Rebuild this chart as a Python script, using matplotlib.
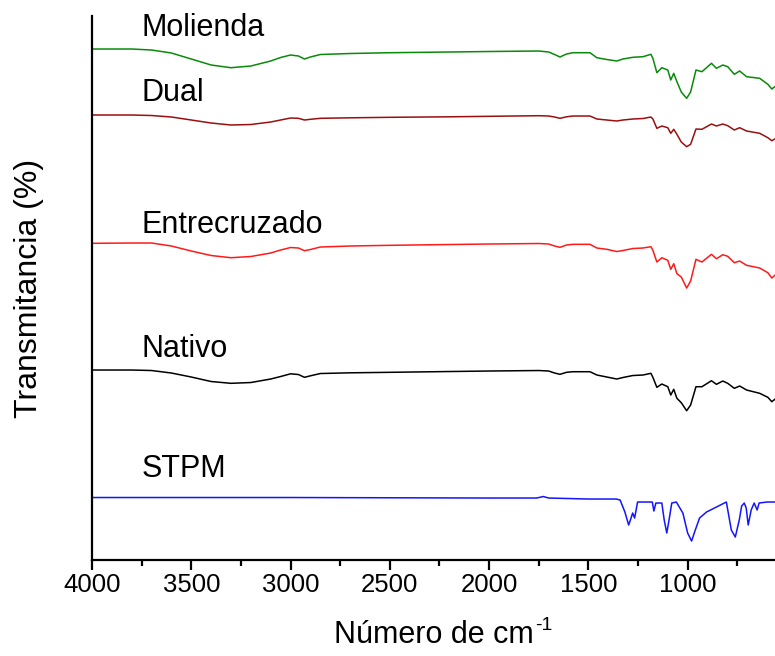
import matplotlib
matplotlib.use("Agg")
import matplotlib.pyplot as plt
from matplotlib.ticker import MultipleLocator

plt.rcParams['font.family'] = ['Liberation Sans', 'DejaVu Sans']

# Shared wavenumber grid for the starch samples (cm-1)
wn_starch = [4000, 3800, 3700, 3600, 3500, 3400, 3300, 3200, 3100, 3050,
             3000, 2960, 2930, 2900, 2850, 2700, 2500, 2200, 2000, 1750,
             1700, 1670, 1643, 1610, 1578, 1492, 1457, 1407, 1357, 1326,
             1276, 1225, 1185, 1175, 1155, 1130, 1100, 1085, 1070, 1054,
             1032, 1005, 985, 958, 928, 880, 855, 823, 798, 765,
             738, 703, 637, 596, 576, 561]

# Stacked transmittance (arbitrary units, already offset)
t_molienda = [511, 511, 510, 507, 501, 495, 492.3, 494, 499, 502.5,
              505, 504, 501, 503, 505.5, 506.5, 507.3, 508, 508.5, 509,
              508, 505.5, 503, 506, 507.3, 507.3, 502.3, 500.5, 499, 501,
              502.7, 503.3, 505.7, 501.7, 487.3, 492.3, 490, 480, 486.7, 478.3,
              468, 461.7, 468, 490, 488.3, 496.7, 491.7, 495, 493.3, 485.7,
              489, 483.3, 481.7, 475.7, 471, 473.3]

t_dual = [445, 445, 444.5, 443, 440, 437, 435, 435.5, 438, 440,
          442, 441.7, 440, 440.7, 441.7, 442.2, 442.7, 443.2, 443.7, 444.3,
          444, 443, 441.7, 443.2, 444, 444, 441, 440, 439, 440,
          441, 441.5, 443, 441, 431.7, 434, 432.3, 426.7, 430.7, 425.7,
          418, 413.3, 415.7, 431, 430.7, 436, 434, 436, 434.3, 430,
          432.3, 429, 426.7, 422.3, 419.3, 421]

t_entrecruzado = [316.7, 317, 317, 314, 309, 304.5, 302.3, 303.5, 307, 310,
                  312.5, 312, 309.3, 310.5, 313, 314, 314.7, 315.5, 316, 316.5,
                  316, 314, 312.7, 315, 315.7, 315.7, 312, 310.7, 308.5, 309.5,
                  311.5, 312, 313.3, 309.7, 298, 302.3, 299.7, 290.7, 296.3, 286.3,
                  283, 272, 279, 300.7, 298, 305.7, 301.3, 305.3, 303.7, 297.3,
                  299, 294.7, 292, 287.3, 282, 284.7]

t_nativo = [190, 190, 189.5, 187, 183, 178.5, 176.7, 177.5, 181, 183.5,
            186.2, 185.5, 182.7, 184.2, 186.5, 187.2, 187.7, 188.5, 189, 189.5,
            189, 187, 185.7, 187.7, 188.3, 188.3, 185, 183, 181, 182.5,
            184.5, 185, 186.7, 182.7, 172.7, 176, 173.3, 165, 170.7, 161.7,
            157.3, 149.3, 155, 173.3, 173.3, 179.3, 175.7, 179, 176.7, 171.7,
            174, 170, 166.7, 162.7, 158.3, 160.7]

# Sodium trimetaphosphate reference spectrum
wn_stpm = [4000, 3000, 2000, 1760, 1727, 1700, 1500, 1360, 1340, 1316,
           1297, 1285, 1277, 1267, 1252, 1200, 1178, 1170, 1160, 1130,
           1118, 1105, 1092, 1080, 1057, 1024, 1000, 980, 965, 940,
           905, 805, 780, 760, 740, 728, 715, 705, 695, 680,
           665, 650, 640, 600, 561]
t_stpm = [62.5, 62.5, 62, 62, 63.5, 62, 61, 61, 60, 48,
          35, 42, 47, 42, 58, 58, 58, 49, 57, 57,
          40, 27, 42, 57, 58, 47, 27, 19, 28, 42,
          48, 58, 30, 23, 40, 54, 57, 52, 35, 50,
          57, 50, 57, 58, 58]

names = ['Molienda', 'Dual', 'Entrecruzado', 'Nativo', 'STPM']
colors = ['#0a8a0a', '#9b0f0f', '#ff1a1a', '#000000', '#1414ff']
label_y = [524, 459, 327, 203, 83]

fig = plt.figure(figsize=(7.75, 6.56), dpi=100)
ax = fig.add_axes([0.1187, 0.1463, 0.8813, 0.8293])

series = [(wn_starch, t_molienda), (wn_starch, t_dual),
          (wn_starch, t_entrecruzado), (wn_starch, t_nativo),
          (wn_stpm, t_stpm)]
for (x, y), name, c, ly in zip(series, names, colors, label_y):
    ax.plot(x, y, color=c, lw=1.1)
    ax.text(3750, ly, name, fontsize=22, va='baseline', ha='left')

ax.set_xlim(4000, 560)
ax.set_ylim(0, 544)
ax.xaxis.set_major_locator(MultipleLocator(500))
ax.xaxis.set_minor_locator(MultipleLocator(250))
ax.set_yticks([])

for s in ['top', 'right']:
    ax.spines[s].set_visible(False)
for s in ['left', 'bottom']:
    ax.spines[s].set_linewidth(1.6)

ax.tick_params(axis='x', which='major', length=7, width=1.6, labelsize=18.5, pad=2)
ax.tick_params(axis='x', which='minor', length=4, width=1.6)

xlab = ax.set_xlabel('Número de cm', fontsize=22, labelpad=17)
ax.annotate('-1', xy=(1, 1), xycoords=xlab, xytext=(1, 2),
            textcoords='offset points', fontsize=14, ha='left', va='top')
ax.set_ylabel('Transmitancia (%)', fontsize=23)
ax.yaxis.set_label_coords(-0.07, 0.5)

fig.savefig('out.png', dpi=100)
